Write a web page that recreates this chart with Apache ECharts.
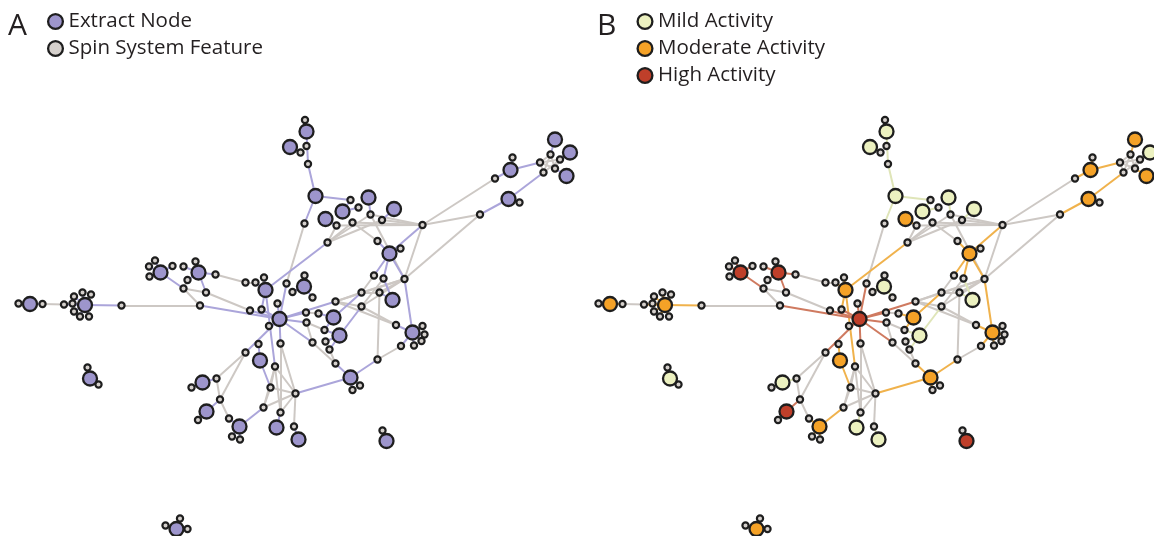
<!DOCTYPE html>
<html>
<head>
<meta charset="utf-8">
<script src="https://cdn.jsdelivr.net/npm/echarts@6/dist/echarts.min.js"></script>
<style>
html, body { margin: 0; padding: 0; background: #ffffff; }
#chart { width: 1154px; height: 536px; }
</style>
</head>
<body>
<div id="chart"></div>
<script>
// Spin system features: [id, x, y] in network layout units
const featureNodes = [
  ['f1',305,120],['f2',306.5,146],['f3',300.5,152.5],['f4',308,164],['f5',304.5,223.5],
  ['f6',350.5,200],['f7',358.5,207.5],['f8',336.5,225.5],['f9',352.5,222.5],['f10',370.5,214.5],
  ['f11',382,220],['f12',422.5,225],['f13',327.5,242.5],['f14',377.5,241],['f15',400.5,248.5],
  ['f16',480,214.5],['f17',519.5,202.5],['f18',495,178.5],['f19',512.5,157.5],['f20',540,162.5],
  ['f21',550.5,154.5],['f22',560,159.5],['f23',555,168.5],['f24',543.5,172.5],
  ['f25',149,266.5],['f26',155,260.5],['f27',149.5,276.5],['f28',172.5,266],['f29',183.5,266.5],
  ['f30',195.5,261.5],['f31',187.5,280],['f32',183.5,288.5],['f33',206,292.5],['f34',215.5,274.5],
  ['f35',200,305.5],['f36',245.5,282.5],['f37',255.5,282.5],['f38',264,277.5],['f39',286.5,283.5],
  ['f40',304.5,275.5],['f41',292.5,292],['f42',312.5,297.5],['f43',277.5,303.5],['f44',250,310.5],
  ['f45',261.5,309.5],['f46',335.5,301.5],['f47',361.5,292.5],['f48',379.5,292.5],['f49',374,275.5],
  ['f50',383.5,278.5],['f51',404.5,279],['f52',361.5,306.5],['f53',306,312.5],['f54',318.5,313.5],
  ['f55',306.5,322.5],['f56',269,326],['f57',324.5,330],['f58',325.5,341.5],['f59',329.5,349.5],
  ['f60',312.5,342.5],['f61',280.5,343.5],['f62',258.5,344],['f63',245.5,352.5],['f64',275,366.5],
  ['f65',335.5,363.5],['f66',360,385.5],['f67',352.5,390],['f68',377.5,359.5],['f69',396,325],
  ['f70',422.5,326],['f71',424.5,334.5],['f72',421.5,341],['f73',414,345.5],['f74',401,346],
  ['f75',191.5,387.5],['f76',216.5,378.5],['f77',220,399.5],['f78',198,420],['f79',229,418.5],
  ['f80',232,436.5],['f81',240,439.5],['f82',270.5,387.5],['f83',295.5,393.5],['f84',263.5,407.5],
  ['f85',280.5,412.5],['f86',294,426.5],['f87',382.5,430.5],
  ['f88',18.5,303.5],['f89',42.5,304],['f90',64,304.5],['f91',72.5,303.5],['f92',74,296.5],
  ['f93',82.5,292.5],['f94',91,294.5],['f95',74,311.5],['f96',80,316.5],['f97',89,316.5],
  ['f98',121.5,305.5],['f99',87.5,367.5],['f100',98.5,384.5],
  ['f101',180,518.5],['f102',165.5,525.5],['f103',187.5,529]
];

// Extract nodes: [id, activity, x, y]
const extractNodes = [
  ['e1','mild',306.5,131.5],['e2','mild',290,147],['e3','mild',315.5,196],['e4','mild',368.5,197.5],
  ['e5','mild',342.5,211.5],['e6','moderate',325.5,219],['e7','mild',394,209],['e8','moderate',389.5,253.5],
  ['e9','moderate',508.5,199],['e10','moderate',510.5,170],['e11','moderate',555,139.5],['e12','mild',570,152.5],
  ['e13','moderate',566.5,176],['e14','high',160.5,272.5],['e15','high',198.5,272.5],['e16','moderate',265.5,290],
  ['e17','mild',304,286.5],['e18','high',279.5,319],['e19','mild',392.5,300],['e20','moderate',333.5,317.5],
  ['e21','mild',339.5,335.5],['e22','moderate',260,360.5],['e23','moderate',350.5,377.5],['e24','moderate',412.5,332.5],
  ['e25','mild',202.5,382.5],['e26','high',206.5,411.5],['e27','moderate',239.5,426.5],['e28','mild',276.5,427.5],
  ['e29','mild',298.5,439.5],['e30','high',386.5,441],['e31','moderate',30,304],['e32','moderate',85,305],
  ['e33','mild',90,378.5],['e34','moderate',176.5,529]
];

// Network edges: [source, target]
const edges = [
  ['e31','f88'],['e31','f89'],['f89','f90'],['e32','f90'],['e32','f91'],['e32','f92'],['e32','f93'],
  ['e32','f94'],['e32','f95'],['e32','f96'],['e32','f97'],['e32','f98'],['f98','f35'],
  ['e33','f99'],['e33','f100'],['e34','f101'],['e34','f102'],['e34','f103'],
  ['e14','f25'],['e14','f26'],['e14','f27'],['e14','f28'],['e14','f32'],
  ['e15','f29'],['e15','f30'],['e15','f31'],['e15','f33'],['e15','f34'],
  ['f31','f32'],['f32','f33'],['f32','f35'],['f33','f44'],['f34','f36'],['f36','f37'],
  ['e16','f37'],['e16','f38'],['e16','f13'],['e16','f64'],['e16','f45'],
  ['e17','f40'],['e17','f41'],['e17','f42'],
  ['e18','f35'],['e18','f44'],['e18','f45'],['e18','f43'],['e18','f39'],['e18','f46'],['e18','f53'],
  ['e18','f55'],['e18','f60'],['e18','f56'],['e18','f61'],['e18','f63'],['f39','f5'],
  ['f53','f54'],['e20','f54'],['e20','f57'],['e20','f47'],
  ['f55','f57'],['f55','f60'],['e21','f57'],['e21','f58'],['e21','f59'],['e21','f52'],
  ['f60','f65'],['f59','f65'],
  ['f46','f47'],['f46','f51'],['f46','f69'],['f47','f51'],['f52','f51'],['f47','f49'],['f52','f50'],
  ['f47','f48'],['f52','f69'],['f46','f52'],['f48','f51'],
  ['e19','f48'],['e19','f50'],
  ['e8','f12'],['e8','f14'],['e8','f15'],['e8','f49'],['e8','f50'],['e8','f51'],
  ['e24','f51'],['e24','f69'],['e24','f70'],['e24','f71'],['e24','f72'],['e24','f73'],['e24','f74'],
  ['f68','f74'],['f68','f48'],
  ['e23','f65'],['e23','f66'],['e23','f67'],['e23','f68'],['e23','f83'],
  ['e22','f62'],['e22','f82'],
  ['f63','f76'],['f63','f77'],['f76','f77'],['e25','f75'],['e25','f76'],['e26','f77'],['e26','f78'],
  ['f77','f79'],['e27','f79'],['e27','f80'],['e27','f81'],['e27','f84'],
  ['f64','f82'],['f64','f83'],['f64','f84'],['f64','f85'],['f82','f83'],['f82','f84'],['f83','f84'],
  ['f83','f85'],['f61','f85'],['f61','f83'],['f83','f86'],['e28','f85'],['e29','f86'],['e30','f87'],
  ['e1','f1'],['e1','f2'],['e1','f4'],['e2','f3'],['e3','f4'],['e3','f5'],['e3','f6'],
  ['e5','f6'],['e5','f7'],['e4','f10'],['e6','f8'],['e7','f11'],
  ['f13','f8'],['f13','f9'],['f13','f10'],['f13','f11'],
  ['f12','f8'],['f12','f9'],['f12','f10'],['f12','f11'],['f12','f16'],['f12','f18'],['f12','f51'],
  ['f10','f51'],['f9','f14'],
  ['e9','f16'],['e9','f17'],['e9','f24'],['f16','f51'],['e10','f18'],['e10','f19'],['e10','f20'],
  ['f20','f21'],['f20','f22'],['f20','f23'],['f20','f24'],['f21','f23'],['f21','f24'],['f22','f24'],['f22','f23'],
  ['e11','f21'],['e12','f22'],['e13','f23']
];

// Legend entries for each panel
const legendA = ['Extract Node', 'Spin System Feature'];
const legendB = ['Mild Activity', 'Moderate Activity', 'High Activity'];

// ---- styling ----
const OUTLINE = '#1e1e1e';
const FEATURE_FILL = '#d5d0cc';
const EXTRACT_FILL = '#9d95cc';
const ACTIVITY_FILL = { mild: '#ecf1c0', moderate: '#f5a227', high: '#bf3f2a' };
const ACTIVITY_EDGE = { mild: '#dfe5b8', moderate: '#f0b24c', high: '#cf7a60' };
const PLAIN_EDGE = '#cdc8c4';
const EXTRACT_EDGE = '#aba5da';

const activityOf = {};
extractNodes.forEach(n => { activityOf[n[0]] = n[1]; });

function buildNodes(panel) {
  const out = [];
  featureNodes.forEach(n => {
    out.push({
      name: n[0], value: [n[1], n[2]], symbolSize: 6.2,
      itemStyle: { color: FEATURE_FILL, borderColor: OUTLINE, borderWidth: 2.2 }
    });
  });
  extractNodes.forEach(n => {
    out.push({
      name: n[0], value: [n[2], n[3]], symbolSize: 14,
      itemStyle: {
        color: panel === 'A' ? EXTRACT_FILL : ACTIVITY_FILL[n[1]],
        borderColor: OUTLINE, borderWidth: 2.3
      }
    });
  });
  return out;
}

function buildLinks(panel) {
  // plain feature-feature links first so extract links sit above them
  const plain = [], coloured = [];
  edges.forEach(([s, t]) => {
    const ex = activityOf[s] || activityOf[t];
    if (!ex) {
      plain.push({ source: s, target: t, lineStyle: { color: PLAIN_EDGE, width: 2 } });
    } else {
      coloured.push({
        source: s, target: t,
        lineStyle: { color: panel === 'A' ? EXTRACT_EDGE : ACTIVITY_EDGE[ex], width: 2 }
      });
    }
  });
  return plain.concat(coloured);
}

function graphSeries(panel, idx) {
  return {
    type: 'graph',
    coordinateSystem: 'cartesian2d',
    xAxisIndex: idx, yAxisIndex: idx,
    symbol: 'circle',
    roam: false,
    silent: true,
    label: { show: false },
    lineStyle: { opacity: 1, curveness: 0 },
    emphasis: { disabled: true },
    data: buildNodes(panel),
    links: buildLinks(panel),
    z: 2
  };
}

const FONT = '"Open Sans", "DejaVu Sans", sans-serif';
const TEXT_COLOR = '#231f20';

function legendGraphics(letter, letterX, entries, colours, dotX, firstY, step) {
  const g = [{
    type: 'text', left: letterX, top: 11,
    style: { text: letter, font: '400 30px ' + FONT, fill: TEXT_COLOR }
  }];
  entries.forEach((label, i) => {
    const cy = firstY + i * step;
    g.push({
      type: 'circle', shape: { cx: dotX, cy: cy, r: 7.4 },
      style: { fill: colours[i], stroke: OUTLINE, lineWidth: 2.3 }
    });
    g.push({
      type: 'text', x: dotX + 13, y: cy,
      style: { text: label, font: '20.5px ' + FONT, fill: TEXT_COLOR, textVerticalAlign: 'middle' }
    });
  });
  return g;
}

const chart = echarts.init(document.getElementById('chart'), null, { renderer: 'canvas' });
chart.setOption({
  backgroundColor: '#ffffff',
  animation: false,
  grid: [
    { left: 0, top: 0, width: 580, height: 536 },
    { left: 580, top: 0, width: 574, height: 536 }
  ],
  xAxis: [
    { gridIndex: 0, type: 'value', min: 0, max: 580, show: false },
    { gridIndex: 1, type: 'value', min: 0, max: 574, show: false }
  ],
  yAxis: [
    { gridIndex: 0, type: 'value', min: 0, max: 536, inverse: true, show: false },
    { gridIndex: 1, type: 'value', min: 0, max: 536, inverse: true, show: false }
  ],
  graphic: [].concat(
    legendGraphics('A', 8, legendA, [EXTRACT_FILL, FEATURE_FILL], 55.5, 21.5, 27),
    legendGraphics('B', 597, legendB, [ACTIVITY_FILL.mild, ACTIVITY_FILL.moderate, ACTIVITY_FILL.high], 645, 21.5, 27)
  ),
  series: [graphSeries('A', 0), graphSeries('B', 1)]
});
</script>
</body>
</html>
